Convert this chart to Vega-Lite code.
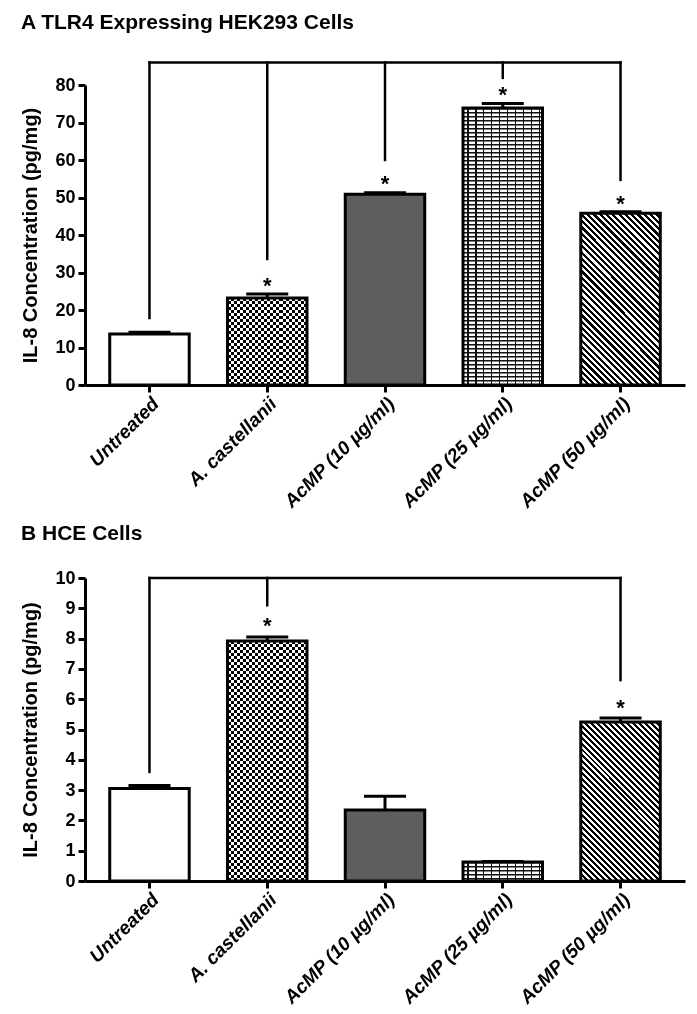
{
  "$schema": "https://vega.github.io/schema/vega-lite/v6.json",
  "background": "white",
  "padding": {"left": 20, "top": 11, "right": 5, "bottom": 0},
  "spacing": 11,
  "config": {
    "font": "Liberation Sans",
    "view": {"stroke": null},
    "axis": {"grid": false, "domainColor": "#000", "domainWidth": 3, "tickColor": "#000", "tickWidth": 3, "tickSize": 7, "labelColor": "#000", "labelFont": "Liberation Sans", "labelFontWeight": "bold", "titleFont": "Liberation Sans", "titleFontWeight": "bold", "titleColor": "#000"},
    "axisX": {"labelAngle": -45, "labelFontSize": 19, "labelFontStyle": "italic", "labelPadding": 2},
    "axisY": {"labelFontSize": 18, "titleFontSize": 20, "labelPadding": 3, "titlePadding": 14},
    "title": {"font": "Liberation Sans", "fontSize": 21, "fontWeight": "bold", "anchor": "start", "frame": "bounds", "color": "#000"}
  },
  "vconcat": [
    {
      "title": {"text": "A  TLR4 Expressing HEK293 Cells", "offset": 28},
      "width": 600,
      "height": 300,
      "data": {"values": [
        {"group": "Untreated", "mean": 13.6, "upper": 14.1, "line_top": 86, "line_end": 17.9},
        {"group": "A. castellanii", "mean": 23.2, "upper": 24.3, "line_top": 86, "line_end": 33.6, "star": 28},
        {"group": "AcMP (10 µg/ml)", "mean": 50.9, "upper": 51.3, "line_top": 86, "line_end": 60, "star": 55.2},
        {"group": "AcMP (25 µg/ml)", "mean": 73.9, "upper": 75.1, "line_top": 86, "line_end": 81.9, "star": 79},
        {"group": "AcMP (50 µg/ml)", "mean": 45.8, "upper": 46.2, "line_top": 86, "line_end": 54.7, "star": 50},
        {"span_from": "Untreated", "span_to": "AcMP (50 µg/ml)", "span_y": 86}
      ]},
      "encoding": {
        "x": {"field": "group", "type": "nominal", "sort": null, "title": null, "scale": {"domain": ["Untreated", "A. castellanii", "AcMP (10 µg/ml)", "AcMP (25 µg/ml)", "AcMP (50 µg/ml)"], "paddingInner": 0.325, "paddingOuter": 0.21}},
        "y": {"field": "mean", "type": "quantitative", "title": "IL-8 Concentration (pg/mg)", "scale": {"domain": [0, 80], "nice": false}, "axis": {"values": [0, 10, 20, 30, 40, 50, 60, 70, 80], "labelOverlap": false, "tickCount": 9}}
      },
      "layer": [
        {
          "transform": [{"filter": "datum.mean != null"}],
          "mark": {"type": "bar"},
          "encoding": {
            "fill": {"field": "group", "type": "nominal", "scale": {"domain": ["Untreated", "A. castellanii", "AcMP (10 µg/ml)", "AcMP (25 µg/ml)", "AcMP (50 µg/ml)"], "range": ["#ffffff", "#ffffff", "#5e5e5e", "#ffffff", "#ffffff"]}, "legend": null}
          }
        },
        {
          "transform": [{"filter": "datum.group === 'A. castellanii'"}],
          "mark": {"type": "bar", "fill": {"gradient": "linear", "x1": 0, "y1": 0, "x2": 1, "y2": 0, "stops": [
            {"offset": 0, "color": "#000"}, {"offset": 0.0385, "color": "#000"}, {"offset": 0.0385, "color": "#fff"}, {"offset": 0.0769, "color": "#fff"},
            {"offset": 0.0769, "color": "#000"}, {"offset": 0.1154, "color": "#000"}, {"offset": 0.1154, "color": "#fff"}, {"offset": 0.1538, "color": "#fff"},
            {"offset": 0.1538, "color": "#000"}, {"offset": 0.1923, "color": "#000"}, {"offset": 0.1923, "color": "#fff"}, {"offset": 0.2308, "color": "#fff"},
            {"offset": 0.2308, "color": "#000"}, {"offset": 0.2692, "color": "#000"}, {"offset": 0.2692, "color": "#fff"}, {"offset": 0.3077, "color": "#fff"},
            {"offset": 0.3077, "color": "#000"}, {"offset": 0.3462, "color": "#000"}, {"offset": 0.3462, "color": "#fff"}, {"offset": 0.3846, "color": "#fff"},
            {"offset": 0.3846, "color": "#000"}, {"offset": 0.4231, "color": "#000"}, {"offset": 0.4231, "color": "#fff"}, {"offset": 0.4615, "color": "#fff"},
            {"offset": 0.4615, "color": "#000"}, {"offset": 0.5, "color": "#000"}, {"offset": 0.5, "color": "#fff"}, {"offset": 0.5385, "color": "#fff"},
            {"offset": 0.5385, "color": "#000"}, {"offset": 0.5769, "color": "#000"}, {"offset": 0.5769, "color": "#fff"}, {"offset": 0.6154, "color": "#fff"},
            {"offset": 0.6154, "color": "#000"}, {"offset": 0.6538, "color": "#000"}, {"offset": 0.6538, "color": "#fff"}, {"offset": 0.6923, "color": "#fff"},
            {"offset": 0.6923, "color": "#000"}, {"offset": 0.7308, "color": "#000"}, {"offset": 0.7308, "color": "#fff"}, {"offset": 0.7692, "color": "#fff"},
            {"offset": 0.7692, "color": "#000"}, {"offset": 0.8077, "color": "#000"}, {"offset": 0.8077, "color": "#fff"}, {"offset": 0.8462, "color": "#fff"},
            {"offset": 0.8462, "color": "#000"}, {"offset": 0.8846, "color": "#000"}, {"offset": 0.8846, "color": "#fff"}, {"offset": 0.9231, "color": "#fff"},
            {"offset": 0.9231, "color": "#000"}, {"offset": 0.9615, "color": "#000"}, {"offset": 0.9615, "color": "#fff"}, {"offset": 1, "color": "#fff"}
          ]}}
        },
        {
          "transform": [{"filter": "datum.group === 'A. castellanii'"}],
          "mark": {"type": "rule", "color": "#fff", "strokeWidth": 79, "strokeDash": [3, 3], "blend": "difference"},
          "encoding": {"y2": {"datum": 0}}
        },
        {
          "transform": [{"filter": "datum.group === 'AcMP (25 µg/ml)'"}],
          "mark": {"type": "bar", "fill": {"gradient": "linear", "x1": 0, "y1": 0, "x2": 1, "y2": 0, "stops": [
            {"offset": 0, "color": "#fff"}, {"offset": 0.05, "color": "#fff"}, {"offset": 0.05, "color": "#111"}, {"offset": 0.07, "color": "#111"},
            {"offset": 0.07, "color": "#fff"}, {"offset": 0.15, "color": "#fff"}, {"offset": 0.15, "color": "#111"}, {"offset": 0.17, "color": "#111"},
            {"offset": 0.17, "color": "#fff"}, {"offset": 0.25, "color": "#fff"}, {"offset": 0.25, "color": "#111"}, {"offset": 0.27, "color": "#111"},
            {"offset": 0.27, "color": "#fff"}, {"offset": 0.35, "color": "#fff"}, {"offset": 0.35, "color": "#111"}, {"offset": 0.37, "color": "#111"},
            {"offset": 0.37, "color": "#fff"}, {"offset": 0.45, "color": "#fff"}, {"offset": 0.45, "color": "#111"}, {"offset": 0.47, "color": "#111"},
            {"offset": 0.47, "color": "#fff"}, {"offset": 0.55, "color": "#fff"}, {"offset": 0.55, "color": "#111"}, {"offset": 0.57, "color": "#111"},
            {"offset": 0.57, "color": "#fff"}, {"offset": 0.65, "color": "#fff"}, {"offset": 0.65, "color": "#111"}, {"offset": 0.67, "color": "#111"},
            {"offset": 0.67, "color": "#fff"}, {"offset": 0.75, "color": "#fff"}, {"offset": 0.75, "color": "#111"}, {"offset": 0.77, "color": "#111"},
            {"offset": 0.77, "color": "#fff"}, {"offset": 0.85, "color": "#fff"}, {"offset": 0.85, "color": "#111"}, {"offset": 0.87, "color": "#111"},
            {"offset": 0.87, "color": "#fff"}, {"offset": 0.95, "color": "#fff"}, {"offset": 0.95, "color": "#111"}, {"offset": 0.97, "color": "#111"},
            {"offset": 0.97, "color": "#fff"}, {"offset": 1, "color": "#fff"}
          ]}}
        },
        {
          "transform": [{"filter": "datum.group === 'AcMP (25 µg/ml)'"}],
          "mark": {"type": "rule", "color": "#111", "strokeWidth": 79, "strokeDash": [1.6, 2.4]},
          "encoding": {"y2": {"datum": 0}}
        },
        {
          "transform": [{"filter": "datum.group === 'AcMP (50 µg/ml)'"}],
          "mark": {"type": "bar", "fill": {"gradient": "linear", "x1": 0, "y1": 1, "x2": 0.558, "y2": -0.205, "stops": [
            {"offset": 0, "color": "#000"}, {"offset": 0.0125, "color": "#000"}, {"offset": 0.0125, "color": "#fff"}, {"offset": 0.025, "color": "#fff"},
            {"offset": 0.025, "color": "#000"}, {"offset": 0.0375, "color": "#000"}, {"offset": 0.0375, "color": "#fff"}, {"offset": 0.05, "color": "#fff"},
            {"offset": 0.05, "color": "#000"}, {"offset": 0.0625, "color": "#000"}, {"offset": 0.0625, "color": "#fff"}, {"offset": 0.075, "color": "#fff"},
            {"offset": 0.075, "color": "#000"}, {"offset": 0.0875, "color": "#000"}, {"offset": 0.0875, "color": "#fff"}, {"offset": 0.1, "color": "#fff"},
            {"offset": 0.1, "color": "#000"}, {"offset": 0.1125, "color": "#000"}, {"offset": 0.1125, "color": "#fff"}, {"offset": 0.125, "color": "#fff"},
            {"offset": 0.125, "color": "#000"}, {"offset": 0.1375, "color": "#000"}, {"offset": 0.1375, "color": "#fff"}, {"offset": 0.15, "color": "#fff"},
            {"offset": 0.15, "color": "#000"}, {"offset": 0.1625, "color": "#000"}, {"offset": 0.1625, "color": "#fff"}, {"offset": 0.175, "color": "#fff"},
            {"offset": 0.175, "color": "#000"}, {"offset": 0.1875, "color": "#000"}, {"offset": 0.1875, "color": "#fff"}, {"offset": 0.2, "color": "#fff"},
            {"offset": 0.2, "color": "#000"}, {"offset": 0.2125, "color": "#000"}, {"offset": 0.2125, "color": "#fff"}, {"offset": 0.225, "color": "#fff"},
            {"offset": 0.225, "color": "#000"}, {"offset": 0.2375, "color": "#000"}, {"offset": 0.2375, "color": "#fff"}, {"offset": 0.25, "color": "#fff"},
            {"offset": 0.25, "color": "#000"}, {"offset": 0.2625, "color": "#000"}, {"offset": 0.2625, "color": "#fff"}, {"offset": 0.275, "color": "#fff"},
            {"offset": 0.275, "color": "#000"}, {"offset": 0.2875, "color": "#000"}, {"offset": 0.2875, "color": "#fff"}, {"offset": 0.3, "color": "#fff"},
            {"offset": 0.3, "color": "#000"}, {"offset": 0.3125, "color": "#000"}, {"offset": 0.3125, "color": "#fff"}, {"offset": 0.325, "color": "#fff"},
            {"offset": 0.325, "color": "#000"}, {"offset": 0.3375, "color": "#000"}, {"offset": 0.3375, "color": "#fff"}, {"offset": 0.35, "color": "#fff"},
            {"offset": 0.35, "color": "#000"}, {"offset": 0.3625, "color": "#000"}, {"offset": 0.3625, "color": "#fff"}, {"offset": 0.375, "color": "#fff"},
            {"offset": 0.375, "color": "#000"}, {"offset": 0.3875, "color": "#000"}, {"offset": 0.3875, "color": "#fff"}, {"offset": 0.4, "color": "#fff"},
            {"offset": 0.4, "color": "#000"}, {"offset": 0.4125, "color": "#000"}, {"offset": 0.4125, "color": "#fff"}, {"offset": 0.425, "color": "#fff"},
            {"offset": 0.425, "color": "#000"}, {"offset": 0.4375, "color": "#000"}, {"offset": 0.4375, "color": "#fff"}, {"offset": 0.45, "color": "#fff"},
            {"offset": 0.45, "color": "#000"}, {"offset": 0.4625, "color": "#000"}, {"offset": 0.4625, "color": "#fff"}, {"offset": 0.475, "color": "#fff"},
            {"offset": 0.475, "color": "#000"}, {"offset": 0.4875, "color": "#000"}, {"offset": 0.4875, "color": "#fff"}, {"offset": 0.5, "color": "#fff"},
            {"offset": 0.5, "color": "#000"}, {"offset": 0.5125, "color": "#000"}, {"offset": 0.5125, "color": "#fff"}, {"offset": 0.525, "color": "#fff"},
            {"offset": 0.525, "color": "#000"}, {"offset": 0.5375, "color": "#000"}, {"offset": 0.5375, "color": "#fff"}, {"offset": 0.55, "color": "#fff"},
            {"offset": 0.55, "color": "#000"}, {"offset": 0.5625, "color": "#000"}, {"offset": 0.5625, "color": "#fff"}, {"offset": 0.575, "color": "#fff"},
            {"offset": 0.575, "color": "#000"}, {"offset": 0.5875, "color": "#000"}, {"offset": 0.5875, "color": "#fff"}, {"offset": 0.6, "color": "#fff"},
            {"offset": 0.6, "color": "#000"}, {"offset": 0.6125, "color": "#000"}, {"offset": 0.6125, "color": "#fff"}, {"offset": 0.625, "color": "#fff"},
            {"offset": 0.625, "color": "#000"}, {"offset": 0.6375, "color": "#000"}, {"offset": 0.6375, "color": "#fff"}, {"offset": 0.65, "color": "#fff"},
            {"offset": 0.65, "color": "#000"}, {"offset": 0.6625, "color": "#000"}, {"offset": 0.6625, "color": "#fff"}, {"offset": 0.675, "color": "#fff"},
            {"offset": 0.675, "color": "#000"}, {"offset": 0.6875, "color": "#000"}, {"offset": 0.6875, "color": "#fff"}, {"offset": 0.7, "color": "#fff"},
            {"offset": 0.7, "color": "#000"}, {"offset": 0.7125, "color": "#000"}, {"offset": 0.7125, "color": "#fff"}, {"offset": 0.725, "color": "#fff"},
            {"offset": 0.725, "color": "#000"}, {"offset": 0.7375, "color": "#000"}, {"offset": 0.7375, "color": "#fff"}, {"offset": 0.75, "color": "#fff"},
            {"offset": 0.75, "color": "#000"}, {"offset": 0.7625, "color": "#000"}, {"offset": 0.7625, "color": "#fff"}, {"offset": 0.775, "color": "#fff"},
            {"offset": 0.775, "color": "#000"}, {"offset": 0.7875, "color": "#000"}, {"offset": 0.7875, "color": "#fff"}, {"offset": 0.8, "color": "#fff"},
            {"offset": 0.8, "color": "#000"}, {"offset": 0.8125, "color": "#000"}, {"offset": 0.8125, "color": "#fff"}, {"offset": 0.825, "color": "#fff"},
            {"offset": 0.825, "color": "#000"}, {"offset": 0.8375, "color": "#000"}, {"offset": 0.8375, "color": "#fff"}, {"offset": 0.85, "color": "#fff"},
            {"offset": 0.85, "color": "#000"}, {"offset": 0.8625, "color": "#000"}, {"offset": 0.8625, "color": "#fff"}, {"offset": 0.875, "color": "#fff"},
            {"offset": 0.875, "color": "#000"}, {"offset": 0.8875, "color": "#000"}, {"offset": 0.8875, "color": "#fff"}, {"offset": 0.9, "color": "#fff"},
            {"offset": 0.9, "color": "#000"}, {"offset": 0.9125, "color": "#000"}, {"offset": 0.9125, "color": "#fff"}, {"offset": 0.925, "color": "#fff"},
            {"offset": 0.925, "color": "#000"}, {"offset": 0.9375, "color": "#000"}, {"offset": 0.9375, "color": "#fff"}, {"offset": 0.95, "color": "#fff"},
            {"offset": 0.95, "color": "#000"}, {"offset": 0.9625, "color": "#000"}, {"offset": 0.9625, "color": "#fff"}, {"offset": 0.975, "color": "#fff"},
            {"offset": 0.975, "color": "#000"}, {"offset": 0.9875, "color": "#000"}, {"offset": 0.9875, "color": "#fff"}, {"offset": 1, "color": "#fff"}
          ]}}
        },
        {
          "transform": [{"filter": "datum.mean != null"}],
          "mark": {"type": "bar", "filled": false, "stroke": "#000", "strokeWidth": 3}
        },
        {
          "transform": [{"filter": "datum.mean != null"}],
          "mark": {"type": "rule", "color": "#000", "strokeWidth": 3},
          "encoding": {"y2": {"field": "upper"}}
        },
        {
          "transform": [{"filter": "datum.mean != null"}],
          "mark": {"type": "tick", "color": "#000", "size": 42, "thickness": 3, "opacity": 1},
          "encoding": {"y": {"field": "upper", "type": "quantitative"}}
        },
        {
          "transform": [{"filter": "datum.line_top != null"}],
          "mark": {"type": "rule", "color": "#000", "strokeWidth": 2.5, "strokeCap": "square"},
          "encoding": {"y": {"field": "line_top", "type": "quantitative"}, "y2": {"field": "line_end"}}
        },
        {
          "transform": [{"filter": "datum.span_y != null"}],
          "mark": {"type": "rule", "color": "#000", "strokeWidth": 2.5, "strokeCap": "square"},
          "encoding": {"x": {"field": "span_from", "type": "nominal", "title": null}, "x2": {"field": "span_to"}, "y": {"field": "span_y", "type": "quantitative"}}
        },
        {
          "transform": [{"filter": "datum.star != null"}],
          "mark": {"type": "text", "text": "*", "fontSize": 22, "fontWeight": "bold", "color": "#000", "baseline": "alphabetic", "dy": 13},
          "encoding": {"y": {"field": "star", "type": "quantitative"}}
        }
      ]
    },
    {
      "title": {"text": "B  HCE Cells", "offset": 25},
      "width": 600,
      "height": 303,
      "data": {"values": [
        {"group": "Untreated", "mean": 3.05, "upper": 3.15, "line_top": 10, "line_end": 3.6},
        {"group": "A. castellanii", "mean": 7.92, "upper": 8.05, "line_top": 10, "line_end": 9.1, "star": 8.6},
        {"group": "AcMP (10 µg/ml)", "mean": 2.34, "upper": 2.8},
        {"group": "AcMP (25 µg/ml)", "mean": 0.63, "upper": 0.64},
        {"group": "AcMP (50 µg/ml)", "mean": 5.25, "upper": 5.38, "line_top": 10, "line_end": 6.63, "star": 5.9},
        {"span_from": "Untreated", "span_to": "AcMP (50 µg/ml)", "span_y": 10}
      ]},
      "encoding": {
        "x": {"field": "group", "type": "nominal", "sort": null, "title": null, "scale": {"domain": ["Untreated", "A. castellanii", "AcMP (10 µg/ml)", "AcMP (25 µg/ml)", "AcMP (50 µg/ml)"], "paddingInner": 0.325, "paddingOuter": 0.21}},
        "y": {"field": "mean", "type": "quantitative", "title": "IL-8 Concentration (pg/mg)", "scale": {"domain": [0, 10], "nice": false}, "axis": {"values": [0, 1, 2, 3, 4, 5, 6, 7, 8, 9, 10], "labelOverlap": false, "tickCount": 11}}
      },
      "layer": [
        {
          "transform": [{"filter": "datum.mean != null"}],
          "mark": {"type": "bar"},
          "encoding": {
            "fill": {"field": "group", "type": "nominal", "scale": {"domain": ["Untreated", "A. castellanii", "AcMP (10 µg/ml)", "AcMP (25 µg/ml)", "AcMP (50 µg/ml)"], "range": ["#ffffff", "#ffffff", "#5e5e5e", "#ffffff", "#ffffff"]}, "legend": null}
          }
        },
        {
          "transform": [{"filter": "datum.group === 'A. castellanii'"}],
          "mark": {"type": "bar", "fill": {"gradient": "linear", "x1": 0, "y1": 0, "x2": 1, "y2": 0, "stops": [
            {"offset": 0, "color": "#000"}, {"offset": 0.0385, "color": "#000"}, {"offset": 0.0385, "color": "#fff"}, {"offset": 0.0769, "color": "#fff"},
            {"offset": 0.0769, "color": "#000"}, {"offset": 0.1154, "color": "#000"}, {"offset": 0.1154, "color": "#fff"}, {"offset": 0.1538, "color": "#fff"},
            {"offset": 0.1538, "color": "#000"}, {"offset": 0.1923, "color": "#000"}, {"offset": 0.1923, "color": "#fff"}, {"offset": 0.2308, "color": "#fff"},
            {"offset": 0.2308, "color": "#000"}, {"offset": 0.2692, "color": "#000"}, {"offset": 0.2692, "color": "#fff"}, {"offset": 0.3077, "color": "#fff"},
            {"offset": 0.3077, "color": "#000"}, {"offset": 0.3462, "color": "#000"}, {"offset": 0.3462, "color": "#fff"}, {"offset": 0.3846, "color": "#fff"},
            {"offset": 0.3846, "color": "#000"}, {"offset": 0.4231, "color": "#000"}, {"offset": 0.4231, "color": "#fff"}, {"offset": 0.4615, "color": "#fff"},
            {"offset": 0.4615, "color": "#000"}, {"offset": 0.5, "color": "#000"}, {"offset": 0.5, "color": "#fff"}, {"offset": 0.5385, "color": "#fff"},
            {"offset": 0.5385, "color": "#000"}, {"offset": 0.5769, "color": "#000"}, {"offset": 0.5769, "color": "#fff"}, {"offset": 0.6154, "color": "#fff"},
            {"offset": 0.6154, "color": "#000"}, {"offset": 0.6538, "color": "#000"}, {"offset": 0.6538, "color": "#fff"}, {"offset": 0.6923, "color": "#fff"},
            {"offset": 0.6923, "color": "#000"}, {"offset": 0.7308, "color": "#000"}, {"offset": 0.7308, "color": "#fff"}, {"offset": 0.7692, "color": "#fff"},
            {"offset": 0.7692, "color": "#000"}, {"offset": 0.8077, "color": "#000"}, {"offset": 0.8077, "color": "#fff"}, {"offset": 0.8462, "color": "#fff"},
            {"offset": 0.8462, "color": "#000"}, {"offset": 0.8846, "color": "#000"}, {"offset": 0.8846, "color": "#fff"}, {"offset": 0.9231, "color": "#fff"},
            {"offset": 0.9231, "color": "#000"}, {"offset": 0.9615, "color": "#000"}, {"offset": 0.9615, "color": "#fff"}, {"offset": 1, "color": "#fff"}
          ]}}
        },
        {
          "transform": [{"filter": "datum.group === 'A. castellanii'"}],
          "mark": {"type": "rule", "color": "#fff", "strokeWidth": 79, "strokeDash": [3, 3], "blend": "difference"},
          "encoding": {"y2": {"datum": 0}}
        },
        {
          "transform": [{"filter": "datum.group === 'AcMP (25 µg/ml)'"}],
          "mark": {"type": "bar", "fill": {"gradient": "linear", "x1": 0, "y1": 0, "x2": 1, "y2": 0, "stops": [
            {"offset": 0, "color": "#fff"}, {"offset": 0.05, "color": "#fff"}, {"offset": 0.05, "color": "#111"}, {"offset": 0.07, "color": "#111"},
            {"offset": 0.07, "color": "#fff"}, {"offset": 0.15, "color": "#fff"}, {"offset": 0.15, "color": "#111"}, {"offset": 0.17, "color": "#111"},
            {"offset": 0.17, "color": "#fff"}, {"offset": 0.25, "color": "#fff"}, {"offset": 0.25, "color": "#111"}, {"offset": 0.27, "color": "#111"},
            {"offset": 0.27, "color": "#fff"}, {"offset": 0.35, "color": "#fff"}, {"offset": 0.35, "color": "#111"}, {"offset": 0.37, "color": "#111"},
            {"offset": 0.37, "color": "#fff"}, {"offset": 0.45, "color": "#fff"}, {"offset": 0.45, "color": "#111"}, {"offset": 0.47, "color": "#111"},
            {"offset": 0.47, "color": "#fff"}, {"offset": 0.55, "color": "#fff"}, {"offset": 0.55, "color": "#111"}, {"offset": 0.57, "color": "#111"},
            {"offset": 0.57, "color": "#fff"}, {"offset": 0.65, "color": "#fff"}, {"offset": 0.65, "color": "#111"}, {"offset": 0.67, "color": "#111"},
            {"offset": 0.67, "color": "#fff"}, {"offset": 0.75, "color": "#fff"}, {"offset": 0.75, "color": "#111"}, {"offset": 0.77, "color": "#111"},
            {"offset": 0.77, "color": "#fff"}, {"offset": 0.85, "color": "#fff"}, {"offset": 0.85, "color": "#111"}, {"offset": 0.87, "color": "#111"},
            {"offset": 0.87, "color": "#fff"}, {"offset": 0.95, "color": "#fff"}, {"offset": 0.95, "color": "#111"}, {"offset": 0.97, "color": "#111"},
            {"offset": 0.97, "color": "#fff"}, {"offset": 1, "color": "#fff"}
          ]}}
        },
        {
          "transform": [{"filter": "datum.group === 'AcMP (25 µg/ml)'"}],
          "mark": {"type": "rule", "color": "#111", "strokeWidth": 79, "strokeDash": [1.6, 2.4]},
          "encoding": {"y2": {"datum": 0}}
        },
        {
          "transform": [{"filter": "datum.group === 'AcMP (50 µg/ml)'"}],
          "mark": {"type": "bar", "fill": {"gradient": "linear", "x1": 0, "y1": 1, "x2": 0.6, "y2": -0.2, "stops": [
            {"offset": 0, "color": "#000"}, {"offset": 0.0125, "color": "#000"}, {"offset": 0.0125, "color": "#fff"}, {"offset": 0.025, "color": "#fff"},
            {"offset": 0.025, "color": "#000"}, {"offset": 0.0375, "color": "#000"}, {"offset": 0.0375, "color": "#fff"}, {"offset": 0.05, "color": "#fff"},
            {"offset": 0.05, "color": "#000"}, {"offset": 0.0625, "color": "#000"}, {"offset": 0.0625, "color": "#fff"}, {"offset": 0.075, "color": "#fff"},
            {"offset": 0.075, "color": "#000"}, {"offset": 0.0875, "color": "#000"}, {"offset": 0.0875, "color": "#fff"}, {"offset": 0.1, "color": "#fff"},
            {"offset": 0.1, "color": "#000"}, {"offset": 0.1125, "color": "#000"}, {"offset": 0.1125, "color": "#fff"}, {"offset": 0.125, "color": "#fff"},
            {"offset": 0.125, "color": "#000"}, {"offset": 0.1375, "color": "#000"}, {"offset": 0.1375, "color": "#fff"}, {"offset": 0.15, "color": "#fff"},
            {"offset": 0.15, "color": "#000"}, {"offset": 0.1625, "color": "#000"}, {"offset": 0.1625, "color": "#fff"}, {"offset": 0.175, "color": "#fff"},
            {"offset": 0.175, "color": "#000"}, {"offset": 0.1875, "color": "#000"}, {"offset": 0.1875, "color": "#fff"}, {"offset": 0.2, "color": "#fff"},
            {"offset": 0.2, "color": "#000"}, {"offset": 0.2125, "color": "#000"}, {"offset": 0.2125, "color": "#fff"}, {"offset": 0.225, "color": "#fff"},
            {"offset": 0.225, "color": "#000"}, {"offset": 0.2375, "color": "#000"}, {"offset": 0.2375, "color": "#fff"}, {"offset": 0.25, "color": "#fff"},
            {"offset": 0.25, "color": "#000"}, {"offset": 0.2625, "color": "#000"}, {"offset": 0.2625, "color": "#fff"}, {"offset": 0.275, "color": "#fff"},
            {"offset": 0.275, "color": "#000"}, {"offset": 0.2875, "color": "#000"}, {"offset": 0.2875, "color": "#fff"}, {"offset": 0.3, "color": "#fff"},
            {"offset": 0.3, "color": "#000"}, {"offset": 0.3125, "color": "#000"}, {"offset": 0.3125, "color": "#fff"}, {"offset": 0.325, "color": "#fff"},
            {"offset": 0.325, "color": "#000"}, {"offset": 0.3375, "color": "#000"}, {"offset": 0.3375, "color": "#fff"}, {"offset": 0.35, "color": "#fff"},
            {"offset": 0.35, "color": "#000"}, {"offset": 0.3625, "color": "#000"}, {"offset": 0.3625, "color": "#fff"}, {"offset": 0.375, "color": "#fff"},
            {"offset": 0.375, "color": "#000"}, {"offset": 0.3875, "color": "#000"}, {"offset": 0.3875, "color": "#fff"}, {"offset": 0.4, "color": "#fff"},
            {"offset": 0.4, "color": "#000"}, {"offset": 0.4125, "color": "#000"}, {"offset": 0.4125, "color": "#fff"}, {"offset": 0.425, "color": "#fff"},
            {"offset": 0.425, "color": "#000"}, {"offset": 0.4375, "color": "#000"}, {"offset": 0.4375, "color": "#fff"}, {"offset": 0.45, "color": "#fff"},
            {"offset": 0.45, "color": "#000"}, {"offset": 0.4625, "color": "#000"}, {"offset": 0.4625, "color": "#fff"}, {"offset": 0.475, "color": "#fff"},
            {"offset": 0.475, "color": "#000"}, {"offset": 0.4875, "color": "#000"}, {"offset": 0.4875, "color": "#fff"}, {"offset": 0.5, "color": "#fff"},
            {"offset": 0.5, "color": "#000"}, {"offset": 0.5125, "color": "#000"}, {"offset": 0.5125, "color": "#fff"}, {"offset": 0.525, "color": "#fff"},
            {"offset": 0.525, "color": "#000"}, {"offset": 0.5375, "color": "#000"}, {"offset": 0.5375, "color": "#fff"}, {"offset": 0.55, "color": "#fff"},
            {"offset": 0.55, "color": "#000"}, {"offset": 0.5625, "color": "#000"}, {"offset": 0.5625, "color": "#fff"}, {"offset": 0.575, "color": "#fff"},
            {"offset": 0.575, "color": "#000"}, {"offset": 0.5875, "color": "#000"}, {"offset": 0.5875, "color": "#fff"}, {"offset": 0.6, "color": "#fff"},
            {"offset": 0.6, "color": "#000"}, {"offset": 0.6125, "color": "#000"}, {"offset": 0.6125, "color": "#fff"}, {"offset": 0.625, "color": "#fff"},
            {"offset": 0.625, "color": "#000"}, {"offset": 0.6375, "color": "#000"}, {"offset": 0.6375, "color": "#fff"}, {"offset": 0.65, "color": "#fff"},
            {"offset": 0.65, "color": "#000"}, {"offset": 0.6625, "color": "#000"}, {"offset": 0.6625, "color": "#fff"}, {"offset": 0.675, "color": "#fff"},
            {"offset": 0.675, "color": "#000"}, {"offset": 0.6875, "color": "#000"}, {"offset": 0.6875, "color": "#fff"}, {"offset": 0.7, "color": "#fff"},
            {"offset": 0.7, "color": "#000"}, {"offset": 0.7125, "color": "#000"}, {"offset": 0.7125, "color": "#fff"}, {"offset": 0.725, "color": "#fff"},
            {"offset": 0.725, "color": "#000"}, {"offset": 0.7375, "color": "#000"}, {"offset": 0.7375, "color": "#fff"}, {"offset": 0.75, "color": "#fff"},
            {"offset": 0.75, "color": "#000"}, {"offset": 0.7625, "color": "#000"}, {"offset": 0.7625, "color": "#fff"}, {"offset": 0.775, "color": "#fff"},
            {"offset": 0.775, "color": "#000"}, {"offset": 0.7875, "color": "#000"}, {"offset": 0.7875, "color": "#fff"}, {"offset": 0.8, "color": "#fff"},
            {"offset": 0.8, "color": "#000"}, {"offset": 0.8125, "color": "#000"}, {"offset": 0.8125, "color": "#fff"}, {"offset": 0.825, "color": "#fff"},
            {"offset": 0.825, "color": "#000"}, {"offset": 0.8375, "color": "#000"}, {"offset": 0.8375, "color": "#fff"}, {"offset": 0.85, "color": "#fff"},
            {"offset": 0.85, "color": "#000"}, {"offset": 0.8625, "color": "#000"}, {"offset": 0.8625, "color": "#fff"}, {"offset": 0.875, "color": "#fff"},
            {"offset": 0.875, "color": "#000"}, {"offset": 0.8875, "color": "#000"}, {"offset": 0.8875, "color": "#fff"}, {"offset": 0.9, "color": "#fff"},
            {"offset": 0.9, "color": "#000"}, {"offset": 0.9125, "color": "#000"}, {"offset": 0.9125, "color": "#fff"}, {"offset": 0.925, "color": "#fff"},
            {"offset": 0.925, "color": "#000"}, {"offset": 0.9375, "color": "#000"}, {"offset": 0.9375, "color": "#fff"}, {"offset": 0.95, "color": "#fff"},
            {"offset": 0.95, "color": "#000"}, {"offset": 0.9625, "color": "#000"}, {"offset": 0.9625, "color": "#fff"}, {"offset": 0.975, "color": "#fff"},
            {"offset": 0.975, "color": "#000"}, {"offset": 0.9875, "color": "#000"}, {"offset": 0.9875, "color": "#fff"}, {"offset": 1, "color": "#fff"}
          ]}}
        },
        {
          "transform": [{"filter": "datum.mean != null"}],
          "mark": {"type": "bar", "filled": false, "stroke": "#000", "strokeWidth": 3}
        },
        {
          "transform": [{"filter": "datum.mean != null"}],
          "mark": {"type": "rule", "color": "#000", "strokeWidth": 3},
          "encoding": {"y2": {"field": "upper"}}
        },
        {
          "transform": [{"filter": "datum.mean != null"}],
          "mark": {"type": "tick", "color": "#000", "size": 42, "thickness": 3, "opacity": 1},
          "encoding": {"y": {"field": "upper", "type": "quantitative"}}
        },
        {
          "transform": [{"filter": "datum.line_top != null"}],
          "mark": {"type": "rule", "color": "#000", "strokeWidth": 2.5, "strokeCap": "square"},
          "encoding": {"y": {"field": "line_top", "type": "quantitative"}, "y2": {"field": "line_end"}}
        },
        {
          "transform": [{"filter": "datum.span_y != null"}],
          "mark": {"type": "rule", "color": "#000", "strokeWidth": 2.5, "strokeCap": "square"},
          "encoding": {"x": {"field": "span_from", "type": "nominal", "title": null}, "x2": {"field": "span_to"}, "y": {"field": "span_y", "type": "quantitative"}}
        },
        {
          "transform": [{"filter": "datum.star != null"}],
          "mark": {"type": "text", "text": "*", "fontSize": 22, "fontWeight": "bold", "color": "#000", "baseline": "alphabetic", "dy": 13},
          "encoding": {"y": {"field": "star", "type": "quantitative"}}
        }
      ]
    }
  ]
}
